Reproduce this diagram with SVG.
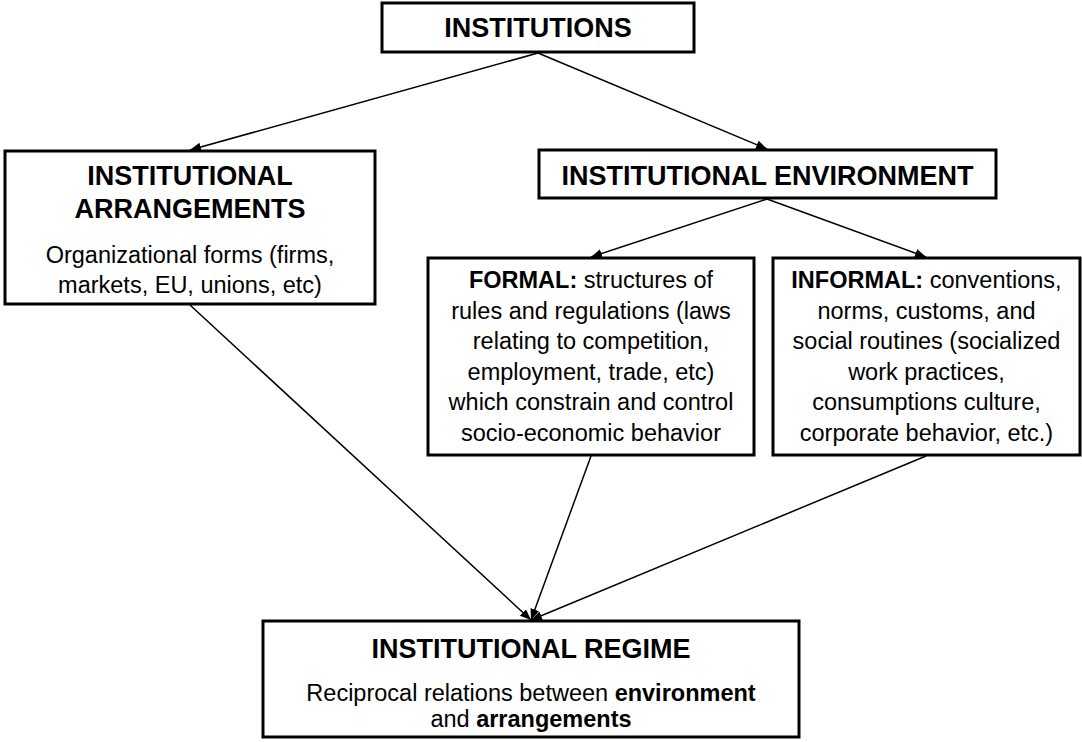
<svg xmlns="http://www.w3.org/2000/svg" width="1082" height="742" viewBox="0 0 1082 742">
<style>
.box{fill:#fff;stroke:#000;stroke-width:3}
.h{font-family:"Liberation Sans",Arial,sans-serif;font-weight:bold;font-size:27px;text-anchor:middle;fill:#000}
.t{font-family:"Liberation Sans",Arial,sans-serif;font-size:23.5px;text-anchor:middle;fill:#000}
.b{font-weight:bold}
.c{stroke:#000;stroke-width:1.5;fill:none;marker-end:url(#arr)}
</style>
<defs>
<marker id="arr" markerUnits="userSpaceOnUse" markerWidth="12" markerHeight="10" refX="11" refY="4.5" orient="auto">
<path d="M0,0 L11,4.5 L0,9 z" fill="#000"/>
</marker>
</defs>
<rect width="1082" height="742" fill="#fff"/>
<g id="connectors">
<line class="c" x1="538" y1="53" x2="190" y2="150"/>
<line class="c" x1="538" y1="53" x2="767" y2="149"/>
<line class="c" x1="767" y1="199" x2="591" y2="257"/>
<line class="c" x1="767" y1="199" x2="926" y2="257"/>
<line class="c" x1="190" y1="305" x2="531" y2="620"/>
<line class="c" x1="591" y1="456" x2="531" y2="620"/>
<line class="c" x1="926" y1="456" x2="531" y2="620"/>
</g>
<g id="institutions">
<rect class="box" x="382" y="3" width="312" height="49"/>
<text class="h" x="538" y="37">INSTITUTIONS</text>
</g>
<g id="arrangements">
<rect class="box" x="5" y="151" width="370" height="153"/>
<text class="h" x="190" y="185">INSTITUTIONAL</text>
<text class="h" x="190" y="218">ARRANGEMENTS</text>
<text class="t" x="190" y="263">Organizational forms (firms,</text>
<text class="t" x="190" y="293">markets, EU, unions, etc)</text>
</g>
<g id="environment">
<rect class="box" x="539" y="150" width="457" height="48"/>
<text class="h" x="767.5" y="185">INSTITUTIONAL ENVIRONMENT</text>
</g>
<g id="formal">
<rect class="box" x="428" y="258" width="326" height="197"/>
<text class="t" x="591" y="288"><tspan class="b">FORMAL:</tspan> structures of</text>
<text class="t" x="591" y="318.5">rules and regulations (laws</text>
<text class="t" x="591" y="349">relating to competition,</text>
<text class="t" x="591" y="379.5">employment, trade, etc)</text>
<text class="t" x="591" y="410">which constrain and control</text>
<text class="t" x="591" y="440.5">socio-economic behavior</text>
</g>
<g id="informal">
<rect class="box" x="773" y="258" width="307" height="197"/>
<text class="t" x="926.5" y="288"><tspan class="b">INFORMAL:</tspan> conventions,</text>
<text class="t" x="926.5" y="318.5">norms, customs, and</text>
<text class="t" x="926.5" y="349">social routines (socialized</text>
<text class="t" x="926.5" y="379.5">work practices,</text>
<text class="t" x="926.5" y="410">consumptions culture,</text>
<text class="t" x="926.5" y="440.5">corporate behavior, etc.)</text>
</g>
<g id="regime">
<rect class="box" x="263" y="621" width="536" height="116"/>
<text class="h" x="531" y="658">INSTITUTIONAL REGIME</text>
<text class="t" x="531" y="701">Reciprocal relations between <tspan class="b">environment</tspan></text>
<text class="t" x="531" y="727">and <tspan class="b">arrangements</tspan></text>
</g>
</svg>
